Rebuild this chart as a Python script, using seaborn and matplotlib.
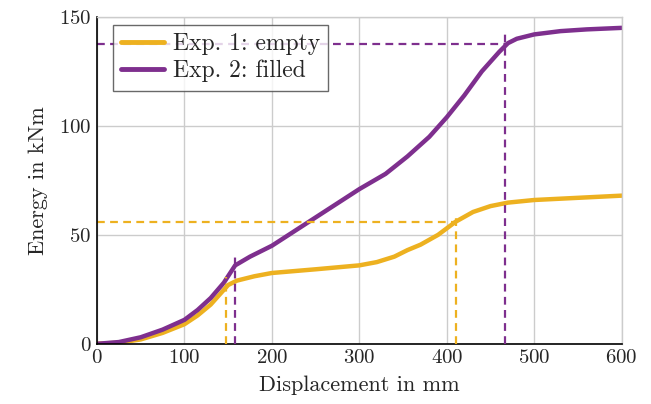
import pandas as pd
import numpy as np
import matplotlib.pyplot as plt
import seaborn as sns

# values
disp_empty = [0, 25, 50, 75, 100, 115, 130, 140, 150, 160, 180, 200, 250, 300, 320, 340, 355, 370, 390, 410, 430, 450, 470, 500, 550, 600]
energy_empty = [0, 0.5, 2, 5, 9, 13, 18, 22.5, 27, 29, 31, 32.5, 34.2, 36, 37.5, 40, 43, 45.5, 50, 56, 60.5, 63.2, 64.8, 66, 67, 68]
disp_filled = [0, 25, 50, 75, 100, 115, 130, 145, 158, 175, 200, 250, 300, 330, 355, 380, 400, 420, 440, 460, 470, 480, 500, 530, 560, 600]
energy_filled = [0, 0.8, 3, 6.5, 11, 15.5, 21, 28, 36, 40, 45, 58, 71, 78, 86, 95, 104, 114, 125, 134, 138, 140, 142, 143.5, 144.3, 145]

# marker lines (x, y) for each experiment
empty_marks = [(148, 28.5), (411, 56)]
filled_marks = [(158, 36), (466, 137.5)]

orange = "#EDB120"
purple = "#7E2F8E"

sns.set_theme(style="whitegrid")
plt.rcParams["font.family"] = ["serif"]
plt.rcParams["font.serif"] = ["cmr10", "DejaVu Serif"]
plt.rcParams["axes.formatter.use_mathtext"] = True
plt.rcParams["mathtext.fontset"] = "cm"

df = pd.concat([
    pd.DataFrame({"x": disp_empty, "y": energy_empty, "exp": "Exp. 1: empty"}),
    pd.DataFrame({"x": disp_filled, "y": energy_filled, "exp": "Exp. 2: filled"}),
])

fig = plt.figure(figsize=(6.51, 4.04), dpi=100)
ax = fig.add_axes([0.149, 0.149, 0.806, 0.809])

sns.lineplot(data=df, x="x", y="y", hue="exp", palette=[orange, purple],
             linewidth=3.2, ax=ax, legend=True)

# dashed guide lines
dash = (0, (3.5, 2.4))
for (xm, ym), col, ext in [(empty_marks[0], orange, 2), (empty_marks[1], orange, 4),
                          (filled_marks[0], purple, 4), (filled_marks[1], purple, 5)]:
    ax.plot([xm, xm], [0, ym + ext], color=col, ls=dash, lw=1.6, zorder=3)
ax.plot([0, empty_marks[1][0]], [empty_marks[1][1]] * 2, color=orange, ls=dash, lw=1.6)
ax.plot([0, filled_marks[1][0]], [filled_marks[1][1]] * 2, color=purple, ls=dash, lw=1.6)

ax.set_xlim(0, 600)
ax.set_ylim(0, 150)
ax.set_xticks([0, 100, 200, 300, 400, 500, 600])
ax.set_yticks([0, 50, 100, 150])
ax.set_xlabel("Displacement in mm", fontsize=16, labelpad=6)
ax.set_ylabel("Energy in kNm", fontsize=16, labelpad=8)
ax.tick_params(labelsize=15, length=0, pad=4)
ax.grid(True, color="#cccccc", linewidth=1)
for side in ["left", "bottom"]:
    ax.spines[side].set_color("black")
    ax.spines[side].set_linewidth(1.2)
for side in ["top", "right"]:
    ax.spines[side].set_color("#cccccc")
    ax.spines[side].set_linewidth(1)

leg = ax.legend(loc="upper left", bbox_to_anchor=(0.03, 0.976), fontsize=17,
                frameon=True, fancybox=False, edgecolor="#444444",
                handlelength=1.8, borderpad=0.35, labelspacing=0.2,
                handletextpad=0.4, borderaxespad=0)
leg.get_frame().set_linewidth(1)
for line in leg.get_lines():
    line.set_linewidth(3.5)

fig.savefig("out.png", dpi=100)
